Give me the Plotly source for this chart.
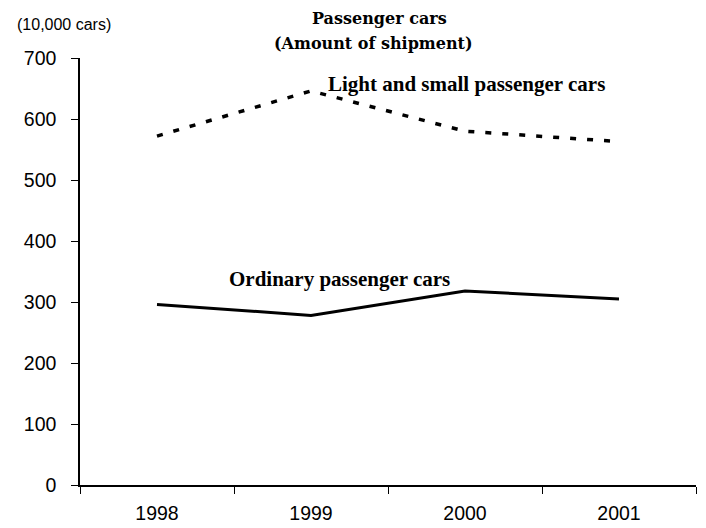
import plotly.graph_objects as go

years = ["1998", "1999", "2000", "2001"]
light_small = [572, 646, 580, 563]
ordinary = [296, 278, 318, 305]
y_ticks = [0, 100, 200, 300, 400, 500, 600, 700]

fig = go.Figure()
fig.add_trace(go.Scatter(x=years, y=light_small, mode="lines",
                         line=dict(color="black", width=3.5, dash="6px,11px"),
                         name="Light and small passenger cars"))
fig.add_trace(go.Scatter(x=years, y=ordinary, mode="lines",
                         line=dict(color="black", width=3),
                         name="Ordinary passenger cars"))

fig.update_layout(
    width=698, height=520,
    margin=dict(l=72, r=10, t=50, b=43, autoexpand=False),
    paper_bgcolor="white", plot_bgcolor="white",
    showlegend=False,
    font=dict(family="Liberation Sans, Arial", color="black", size=19),
)
fig.update_xaxes(type="category", showline=True, linecolor="black", linewidth=1.5,
                 ticks="outside", tickson="boundaries", ticklen=7, tickcolor="black",
                 showgrid=False, range=[-0.5, 3.5], automargin=False,
                 ticklabelstandoff=10,
                 tickfont=dict(size=19.5, family="Liberation Sans, Arial"))
fig.update_yaxes(range=[0, 700], tickvals=y_ticks, showline=True, linecolor="black",
                 linewidth=1.5, ticks="outside", ticklen=7, tickcolor="black",
                 showgrid=False, zeroline=False, automargin=False,
                 ticklabelstandoff=11,
                 tickfont=dict(size=19.5, family="Liberation Sans, Arial"))

title_font = dict(family="DejaVu Serif", size=16, color="black", weight="bold")
fig.add_annotation(text="Passenger cars", xref="paper", yref="paper",
                   x=0.487, y=(485 - 19) / 427, xanchor="center", yanchor="middle",
                   showarrow=False, font=title_font)
fig.add_annotation(text="(Amount of shipment)", xref="paper", yref="paper",
                   x=0.477, y=1.033, xanchor="center", yanchor="middle",
                   showarrow=False, font=title_font)
fig.add_annotation(text="(10,000 cars)", xref="paper", yref="paper",
                   x=-0.1055, y=(485 - 25) / 427, xanchor="left", yanchor="middle",
                   showarrow=False,
                   font=dict(size=16, family="Liberation Sans, Arial"))
fig.add_annotation(text="Light and small passenger cars", xref="paper", yref="paper",
                   x=(326 - 80) / 616, y=(485 - 84) / 427, xanchor="left", yanchor="middle",
                   showarrow=False,
                   font=dict(size=21, family="Liberation Serif", weight="bold"))
fig.add_annotation(text="Ordinary passenger cars", xref="paper", yref="paper",
                   x=(227 - 80) / 616, y=(485 - 279) / 427, xanchor="left", yanchor="middle",
                   showarrow=False,
                   font=dict(size=21, family="Liberation Serif", weight="bold"))

fig.write_html("out.html")
